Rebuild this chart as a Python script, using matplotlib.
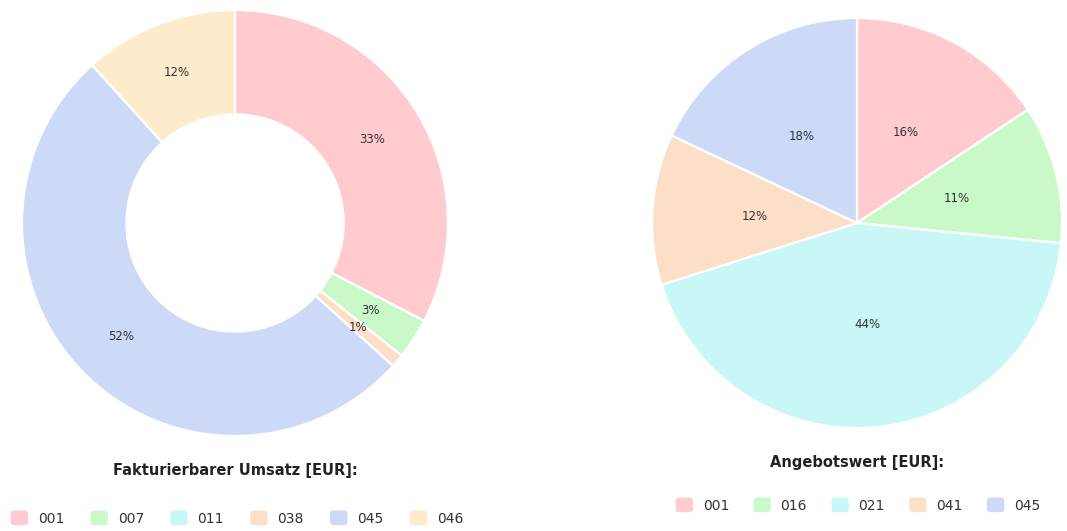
import math
import matplotlib
matplotlib.use("Agg")
import matplotlib.pyplot as plt
from matplotlib.patches import Patch, FancyBboxPatch
from matplotlib.legend_handler import HandlerPatch

# Fakturierbarer Umsatz (donut)
umsatz_labels = ["001", "007", "011", "038", "045", "046"]
umsatz_values = [32.6, 3.1, 0.0, 1.0, 51.6, 11.7]
umsatz_colors = ["#ffcbcf", "#c9f9c9", "#c9f7f7", "#fcdfc7", "#ccdaf7", "#fdebcb"]

# Angebotswert (pie)
angebot_labels = ["001", "016", "021", "041", "045"]
angebot_values = [15.7, 10.9, 43.6, 11.9, 18.0]
angebot_colors = ["#ffcbcf", "#c9f9c9", "#c9f7f7", "#fcdfc7", "#ccdaf7"]

W, H = 1067, 531
fig = plt.figure(figsize=(W / 100, H / 100), dpi=100)
fig.patch.set_facecolor("white")

TEXT = "#333333"


def square_axes(cx, cy, r):
    """Axes centred at pixel (cx, cy) from top-left, spanning radius r pixels."""
    ax = fig.add_axes([(cx - r) / W, (H - cy - r) / H, 2 * r / W, 2 * r / H])
    ax.set_xlim(-1, 1)
    ax.set_ylim(-1, 1)
    ax.set_axis_off()
    return ax


def rounded_handle(legend, orig_handle, xdescent, ydescent, width, height, fontsize):
    return FancyBboxPatch((-xdescent, -ydescent), width, height,
                          boxstyle="round,pad=0,rounding_size=2.5")


def draw_chart(ax, values, colors, inner):
    total = sum(values)
    width = 1 - inner
    ax.pie(values, colors=colors, startangle=90, counterclock=False,
           radius=1.0, center=(0, 0), frame=True,
           wedgeprops=dict(width=width, edgecolor="white", linewidth=1.6))
    ax.set_xlim(-1, 1)
    ax.set_ylim(-1, 1)
    ax.set_axis_off()
    lab_r = (1 + inner) / 2
    start = 90.0
    for v in values:
        sweep = 360.0 * v / total
        mid = math.radians(start - sweep / 2)
        start -= sweep
        pct = round(100 * v / total)
        if pct == 0:
            continue
        ax.text(lab_r * math.cos(mid), lab_r * math.sin(mid), f"{pct}%",
                ha="center", va="center", fontsize=8.5, color=TEXT)


ax1 = square_axes(235, 223, 213)
draw_chart(ax1, umsatz_values, umsatz_colors, inner=0.51)

ax2 = square_axes(857, 223, 205)
draw_chart(ax2, angebot_values, angebot_colors, inner=0.0)

fig.text(235 / W, 1 - 470 / H, "Fakturierbarer Umsatz [EUR]:", ha="center",
         va="center", fontsize=10.5, fontweight="bold", color="#222222")
fig.text(857 / W, 1 - 463 / H, "Angebotswert [EUR]:", ha="center",
         va="center", fontsize=10.5, fontweight="bold", color="#222222")


def add_legend(labels, colors, cx, cy, colspace):
    handles = [Patch(facecolor=c, edgecolor="none") for c in colors]
    fig.legend(handles, labels, loc="center", bbox_to_anchor=(cx / W, 1 - cy / H),
               ncol=len(labels), frameon=False, fontsize=10,
               handlelength=1.25, handleheight=1.25, handletextpad=0.7,
               columnspacing=colspace, labelcolor="#333333",
               handler_map={Patch: HandlerPatch(patch_func=rounded_handle)})


add_legend(umsatz_labels, umsatz_colors, 237, 518, 1.9)
add_legend(angebot_labels, angebot_colors, 858, 505, 1.75)

fig.savefig("out.png", dpi=100, facecolor="white")
